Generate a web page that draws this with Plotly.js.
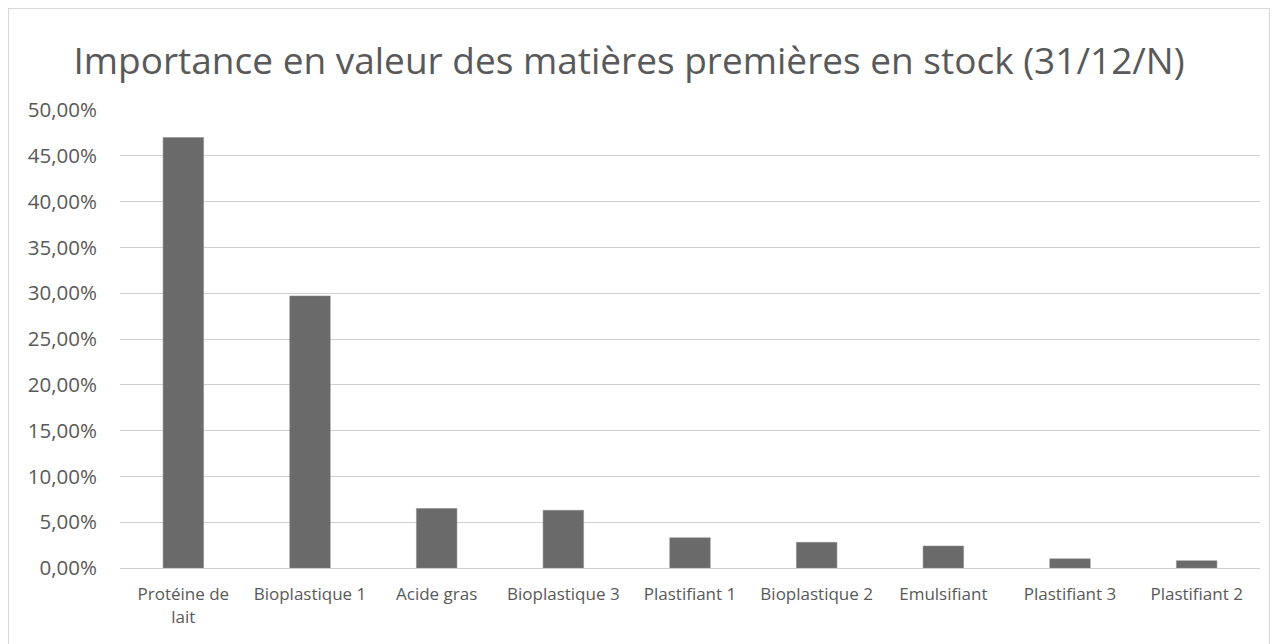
<!DOCTYPE html>
<html>
<head>
<meta charset="utf-8">
<script src="https://cdn.plot.ly/plotly-3.0.1.min.js"></script>
<style>
  body { margin: 0; background: #fff; }
  #frame { position: absolute; left: 8px; top: 8px; width: 1262px; height: 640px; border: 1px solid #d9d9d9; box-sizing: border-box; }
  #myDiv { position: absolute; left: 0; top: 0; width: 1276px; height: 644px; }
</style>
</head>
<body>
<div id="frame"></div>
<div id="myDiv"></div>
<script>
var categories = ['Protéine de<br>lait', 'Bioplastique 1', 'Acide gras', 'Bioplastique 3', 'Plastifiant 1',
  'Bioplastique 2', 'Emulsifiant', 'Plastifiant 3', 'Plastifiant 2'];
var shares = [0.470, 0.297, 0.065, 0.063, 0.033, 0.028, 0.024, 0.010, 0.008];

var trace = {
  x: categories,
  y: shares,
  type: 'bar',
  marker: {color: '#6a6a6a', line: {color: '#8a8a8a', width: 0.5}},
  hoverinfo: 'x+y'
};

var layout = {
  title: {
    text: 'Importance en valeur des matières premières en stock (31/12/N)',
    font: {family: '"Open Sans", sans-serif', size: 37, color: '#595959'},
    x: 0.493, xanchor: 'center', y: 0.905, yanchor: 'middle'
  },
  separators: ', ',
  showlegend: false,
  autosize: false,
  width: 1276,
  height: 644,
  margin: {l: 120, r: 16, t: 110, b: 76, pad: 0},
  bargap: 0.68,
  font: {family: '"Open Sans", sans-serif', size: 15, color: '#595959'},
  xaxis: {
    showline: true, linecolor: '#d0d0d0', linewidth: 1,
    ticks: '', ticklabelstandoff: 11,
    tickfont: {size: 17, color: '#595959'}
  },
  yaxis: {
    range: [0, 0.5], dtick: 0.05, tickformat: '.2%',
    showgrid: true, gridcolor: '#d0d0d0', gridwidth: 1,
    zeroline: false, ticks: '', ticklabelstandoff: 22,
    tickfont: {size: 20.5, color: '#595959'}
  },
  paper_bgcolor: 'rgba(0,0,0,0)',
  plot_bgcolor: 'rgba(0,0,0,0)'
};

Plotly.newPlot('myDiv', [trace], layout, {displayModeBar: false});
</script>
</body>
</html>
